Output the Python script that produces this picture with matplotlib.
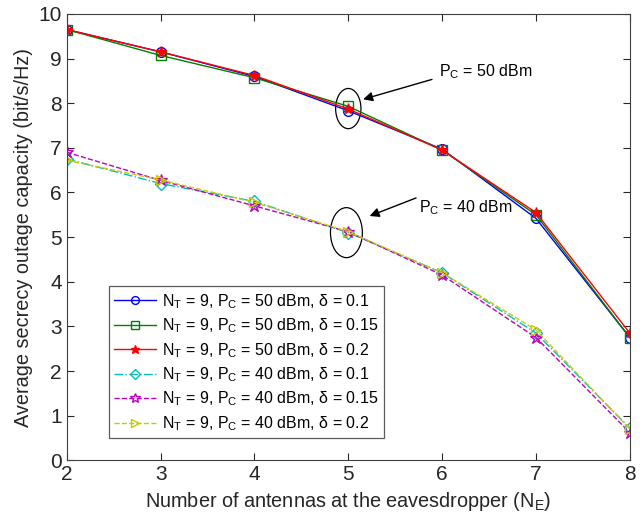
import matplotlib.pyplot as plt
from matplotlib.patches import Ellipse

plt.rcParams['font.family'] = ['Liberation Sans', 'DejaVu Sans']
plt.rcParams['mathtext.fontset'] = 'custom'
plt.rcParams['mathtext.rm'] = 'Liberation Sans'
plt.rcParams['mathtext.it'] = 'Liberation Sans'

# данные
n_e = [2, 3, 4, 5, 6, 7, 8]
cap_50_d01 = [9.65, 9.15, 8.60, 7.83, 6.97, 5.42, 2.75]
cap_50_d015 = [9.65, 9.07, 8.57, 7.93, 6.95, 5.50, 2.75]
cap_50_d02 = [9.65, 9.15, 8.62, 7.87, 6.95, 5.55, 2.85]
cap_40_d01 = [6.75, 6.20, 5.80, 5.10, 4.20, 2.85, 0.72]
cap_40_d015 = [6.90, 6.27, 5.70, 5.12, 4.15, 2.75, 0.62]
cap_40_d02 = [6.72, 6.28, 5.78, 5.12, 4.20, 2.92, 0.70]

labels = [r'N$_\mathrm{T}$ = 9, P$_\mathrm{C}$ = 50 dBm, $\delta$ = 0.1',
          r'N$_\mathrm{T}$ = 9, P$_\mathrm{C}$ = 50 dBm, $\delta$ = 0.15',
          r'N$_\mathrm{T}$ = 9, P$_\mathrm{C}$ = 50 dBm, $\delta$ = 0.2',
          r'N$_\mathrm{T}$ = 9, P$_\mathrm{C}$ = 40 dBm, $\delta$ = 0.1',
          r'N$_\mathrm{T}$ = 9, P$_\mathrm{C}$ = 40 dBm, $\delta$ = 0.15',
          r'N$_\mathrm{T}$ = 9, P$_\mathrm{C}$ = 40 dBm, $\delta$ = 0.2']

fig = plt.figure(figsize=(6.42, 5.16), dpi=100)
ax = fig.add_axes([0.104, 0.108, 0.877, 0.865])

ax.plot(n_e, cap_50_d01, '-', color='#0000ff', marker='o', mfc='none', ms=7, lw=1, label=labels[0])
ax.plot(n_e, cap_50_d015, '-', color='#008000', marker='s', mfc='none', ms=7, lw=1, label=labels[1])
ax.plot(n_e, cap_50_d02, '-', color='#ff0000', marker='*', ms=8, lw=1, label=labels[2])
ax.plot(n_e, cap_40_d01, '-.', color='#00bfbf', marker='D', mfc='none', ms=6, lw=1, label=labels[3])
ax.plot(n_e, cap_40_d015, '--', color='#bf00bf', marker='*', mfc='none', ms=9, lw=1, label=labels[4])
ax.plot(n_e, cap_40_d02, '--', color='#c8c800', marker='>', mfc='none', ms=7, lw=1, label=labels[5])

# эллипсы и стрелки
ax.add_patch(Ellipse((5.0, 7.88), 0.27, 0.9, fill=False, color='k', lw=0.9))
ax.add_patch(Ellipse((4.98, 5.1), 0.34, 1.12, fill=False, color='k', lw=0.9))
ax.annotate('', xy=(5.13, 8.07), xytext=(5.92, 8.55),
            arrowprops=dict(arrowstyle='-|>', color='k', lw=1, mutation_scale=14))
ax.annotate('', xy=(5.2, 5.45), xytext=(5.75, 5.9),
            arrowprops=dict(arrowstyle='-|>', color='k', lw=1, mutation_scale=14))
ax.text(5.97, 8.7, r'P$_\mathrm{C}$ = 50 dBm', fontsize=11.5, va='center')
ax.text(5.75, 5.65, r'P$_\mathrm{C}$ = 40 dBm', fontsize=11.5, va='center')

ax.set_xlim(2, 8)
ax.set_ylim(0, 10)
ax.set_xticks(n_e)
ax.set_yticks(range(0, 11))
ax.tick_params(direction='in', top=True, right=True, labelsize=15, length=5, colors='#262626')
for s in ax.spines.values():
    s.set_color('#404040')
ax.set_xlabel(r'Number of antennas at the eavesdropper (N$_\mathrm{E}$)', fontsize=14.3, color='#262626')
ax.set_ylabel('Average secrecy outage capacity (bit/s/Hz)', fontsize=14.3, color='#262626')

leg = ax.legend(loc='lower left', bbox_to_anchor=(0.06, 0.031), fontsize=11.5, frameon=True,
                fancybox=False, edgecolor='#333333', handlelength=2.6, labelspacing=0.36,
                borderpad=0.35, handletextpad=0.4, markerscale=0.8)
leg.get_frame().set_linewidth(0.9)

fig.savefig('out.png', dpi=100)
